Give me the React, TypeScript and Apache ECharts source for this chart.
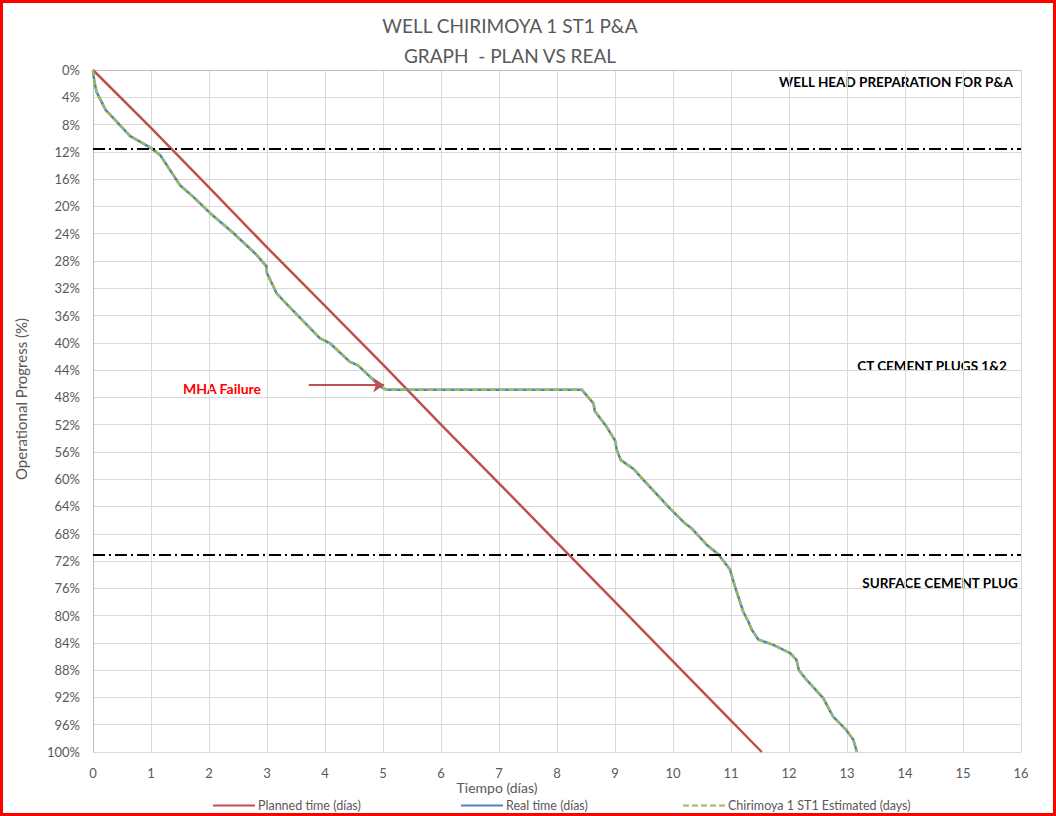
import React, { useEffect, useRef } from "react";
import * as echarts from "echarts";

const titleLines = ["WELL CHIRIMOYA 1 ST1 P&A", "GRAPH  - PLAN VS REAL"];
const seriesNames = ["Planned time (días)", "Real time (días)", "Chirimoya 1 ST1 Estimated (days)"];
const xAxisTitle = "Tiempo (días)";
const yAxisTitle = "Operational Progress (%)";

const plannedData: [number, number][] = [
  [0, 0], [1, 8.5], [2, 17.2], [3, 26], [4, 34.6], [5, 43.2], [6, 52], [7, 60.6],
  [8, 69.3], [9, 78], [10, 86.7], [11, 95.4], [11.53, 100],
];

const realData: [number, number][] = [
  [0, 0], [0.02, 1.5], [0.06, 3.2], [0.12, 4.2], [0.22, 5.9], [0.38, 7.3], [0.64, 9.7],
  [0.81, 10.5], [1.01, 11.5], [1.16, 12.5], [1.33, 14.7], [1.5, 16.9], [1.73, 18.6],
  [2.02, 21], [2.42, 23.9], [2.82, 27.1], [2.99, 28.8], [3.0, 29.8], [3.17, 32.8],
  [3.45, 35.3], [3.91, 39.3], [4.09, 40.1], [4.43, 42.8], [4.57, 43.3], [4.95, 46.4],
  [5.06, 46.9], [8.43, 46.9], [8.63, 48.9], [8.65, 50.0], [8.83, 52], [9.0, 54.3],
  [9.03, 55.7], [9.1, 57.2], [9.32, 58.5], [9.49, 60.1], [9.95, 64.3], [10.21, 66.5],
  [10.32, 67.2], [10.58, 69.6], [10.78, 71.0], [10.98, 73.2], [11.07, 75.8], [11.21, 79.4],
  [11.3, 80.9], [11.36, 82.1], [11.47, 83.5], [11.73, 84.3], [12.02, 85.5], [12.13, 86.5],
  [12.17, 88], [12.3, 89.4], [12.59, 92.1], [12.76, 94.8], [12.99, 96.8], [13.11, 98.2],
  [13.17, 100],
];

const estimatedData: [number, number][] = realData;

const phaseLimits = [11.6, 71.1];
const phaseLabels = ["WELL HEAD PREPARATION FOR P&A", "CT CEMENT PLUGS 1&2", "SURFACE CEMENT PLUG"];
const failureLabel = "MHA Failure";
const failureArrow: [number, number][] = [[3.72, 46.2], [5.02, 46.2]];

const FONT = "Lato, 'Liberation Sans', sans-serif";
const GRAY = "#595959";

export default function App() {
  const ref = useRef<HTMLDivElement>(null);
  useEffect(() => {
    document.body.style.margin = "0";
    if (!ref.current) return;
    const chart = echarts.init(ref.current, null, { renderer: "svg" });
    const legendBase = {
      top: 794,
      itemWidth: 42,
      itemHeight: 14,
      itemGap: 5,
      itemStyle: { opacity: 0 },
      textStyle: { color: GRAY, fontSize: 12.5, fontFamily: FONT, padding: [0, 0, 0, -2] },
    };
    chart.setOption({
      animation: false,
      textStyle: { fontFamily: FONT },
      grid: { left: 93, right: 35, top: 70, bottom: 64, containLabel: false },
      xAxis: {
        type: "value",
        min: 0,
        max: 16,
        interval: 1,
        axisLine: { show: true, lineStyle: { color: "#BFBFBF", width: 1 } },
        axisTick: { show: false },
        axisLabel: { color: GRAY, fontSize: 13, fontFamily: FONT, margin: 14 },
        splitLine: { show: true, lineStyle: { color: "#D9D9D9", width: 1 } },
      },
      yAxis: {
        type: "value",
        inverse: true,
        min: 0,
        max: 100,
        interval: 4,
        axisLine: { show: true, lineStyle: { color: "#BFBFBF", width: 1 } },
        axisTick: { show: false },
        axisLabel: { color: GRAY, fontSize: 13, fontFamily: FONT, margin: 13, formatter: "{value}%" },
        splitLine: { show: true, lineStyle: { color: "#D9D9D9", width: 1 } },
      },
      legend: [
        { ...legendBase, left: 207, data: [seriesNames[0]] },
        { ...legendBase, left: 455, data: [seriesNames[1]] },
        { ...legendBase, left: 677, data: [seriesNames[2]] },
      ],
      series: [
        {
          name: seriesNames[0],
          type: "line",
          data: plannedData,
          symbol: "none",
          lineStyle: { color: "#C0504D", width: 2.5 },
          itemStyle: { color: "#C0504D" },
          z: 2,
          markLine: {
            silent: true,
            symbol: "none",
            label: { show: false },
            lineStyle: { color: "#000000", width: 2, type: [12, 4, 2, 4] },
            data: phaseLimits.map((v) => ({ yAxis: v })),
          },
        },
        {
          name: seriesNames[1],
          type: "line",
          data: realData,
          symbol: "none",
          lineStyle: { color: "#4F81BD", width: 2.5 },
          itemStyle: { color: "#4F81BD" },
          z: 3,
        },
        {
          name: seriesNames[2],
          type: "line",
          data: estimatedData,
          symbol: "none",
          lineStyle: { color: "#9BBB59", width: 2.5, type: [6, 3] },
          itemStyle: { color: "#9BBB59" },
          z: 4,
          markLine: {
            silent: true,
            symbol: ["none", "arrow"],
            symbolSize: 11,
            label: { show: false },
            itemStyle: { color: "#C0504D" },
            lineStyle: { color: "#C0504D", width: 2, type: "solid" },
            data: [[{ coord: failureArrow[0] }, { coord: failureArrow[1] }]],
          },
        },
      ],
      graphic: [
        {
          type: "rect",
          shape: { x: 1.5, y: 1.5, width: 1053, height: 813 },
          style: { fill: "none", stroke: "#FF0000", lineWidth: 3 },
          silent: true,
        },
        {
          type: "text",
          x: 510, y: 25,
          style: { text: titleLines[0], fill: GRAY, fontSize: 19, fontFamily: FONT, textAlign: "center", textVerticalAlign: "middle" },
        },
        {
          type: "text",
          x: 510, y: 55,
          style: { text: titleLines[1], fill: GRAY, fontSize: 19, fontFamily: FONT, textAlign: "center", textVerticalAlign: "middle" },
        },
        {
          type: "text",
          x: 497, y: 787,
          style: { text: xAxisTitle, fill: GRAY, fontSize: 14, fontFamily: FONT, textAlign: "center", textVerticalAlign: "middle" },
        },
        {
          type: "text",
          x: 21, y: 399,
          rotation: Math.PI / 2,
          style: { text: yAxisTitle, fill: GRAY, fontSize: 15, fontFamily: FONT, textAlign: "center", textVerticalAlign: "middle" },
        },
        {
          type: "text",
          x: 1013, y: 82,
          style: { text: phaseLabels[0], fill: "#000000", fontSize: 13.5, fontWeight: "bold", fontFamily: FONT, textAlign: "right", textVerticalAlign: "middle" },
        },
        {
          type: "text",
          x: 932, y: 366,
          style: { text: phaseLabels[1], fill: "#000000", fontSize: 13.5, fontWeight: "bold", fontFamily: FONT, textAlign: "center", textVerticalAlign: "middle" },
        },
        {
          type: "text",
          x: 940, y: 583,
          style: { text: phaseLabels[2], fill: "#000000", fontSize: 13.5, fontWeight: "bold", fontFamily: FONT, textAlign: "center", textVerticalAlign: "middle" },
        },
        {
          type: "text",
          x: 222, y: 388,
          style: { text: failureLabel, fill: "#FF0000", fontSize: 14, fontWeight: "bold", fontFamily: FONT, textAlign: "center", textVerticalAlign: "middle" },
        },
      ],
    });
    return () => chart.dispose();
  }, []);
  return <div ref={ref} style={{ width: 1056, height: 816 }} />;
}
